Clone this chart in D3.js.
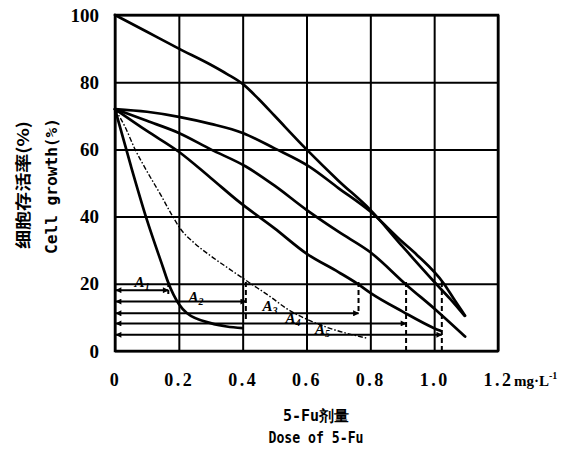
<!DOCTYPE html>
<html>
<head>
<meta charset="utf-8">
<script src="https://cdn.jsdelivr.net/npm/d3@7"></script>
<style>
  body { margin: 0; background: #fff; }
  .tick line { stroke: #000; stroke-width: 2; }
  .tick text { font-family: "Liberation Serif", serif; font-weight: bold; font-size: 19px; fill: #000; }
  .x-axis .tick text { font-size: 18px; letter-spacing: 2.5px; }
  .domain { stroke: none; }
</style>
</head>
<body>
<div class="chart"></div>
<script>
// DATA -----------------------------------

// tick labels
var xTicks = [0, 0.2, 0.4, 0.6, 0.8, 1.0, 1.2];
var xTickLabels = ["0", "0.2", "0.4", "0.6", "0.8", "1.0", "1.2"];
var yTicks = [0, 20, 40, 60, 80, 100];

// control curve (starts at 100%)
var topDose = [0, 0.1, 0.2, 0.3, 0.35, 0.4, 0.45, 0.5, 0.6, 0.7, 0.8, 0.9, 1.0, 1.05, 1.095];
var topGrowth = [100, 95, 90, 85.2, 82.5, 79.5, 75, 70, 60, 50.7, 42, 31.2, 20.6, 15.5, 10.5];

// curves starting at 72%
var aDose = [0, 0.1, 0.2, 0.3, 0.4, 0.5, 0.61, 0.7, 0.8, 0.9, 0.946, 1.03, 1.065, 1.097];
var aGrowth = [72, 71.2, 69.7, 67.6, 64.9, 60.3, 54.8, 48.5, 41.5, 32.5, 28.6, 20.1, 15, 10.5];

var bDose = [0, 0.1, 0.2, 0.3, 0.41, 0.5, 0.6, 0.7, 0.8, 0.914, 1.008, 1.097];
var bGrowth = [72, 68.5, 64.9, 60, 54.9, 49.2, 42, 35.5, 29.4, 19.6, 12, 4.3];

var cDose = [0, 0.1, 0.2, 0.3, 0.39, 0.5, 0.6, 0.7, 0.76, 0.8, 0.9, 1.0, 1.02];
var cGrowth = [72, 65.5, 59.3, 51.5, 44.3, 36.5, 29, 23.5, 20, 17.3, 11.8, 6.8, 6];

var dDose = [0, 0.05, 0.1, 0.15, 0.167, 0.2, 0.225, 0.3, 0.35, 0.4];
var dGrowth = [72, 55, 39, 25, 20.3, 14, 11.3, 8.3, 7.3, 6.8];

// dash-dot curve
var eDose = [0, 0.03, 0.063, 0.1, 0.146, 0.178, 0.204, 0.25, 0.3, 0.36, 0.42, 0.486, 0.538, 0.632, 0.79];
var eGrowth = [72, 67, 60, 53.5, 46, 40.5, 36.5, 32, 28.3, 24.3, 20.4, 16.2, 12.6, 8.2, 3.8];

// dose at 20% growth for each curve, and the level of its arrow
var arrowDose = [0.167, 0.41, 0.763, 0.912, 1.024];
var arrowLevel = [18.1, 14.7, 11.2, 8.2, 4.8];
var dropEnd = [17, 8.7, 11.2, 0, 0];
var arrowNames = ["1", "2", "3", "4", "5"];
var nameDose = [0.085, 0.254, 0.486, 0.558, 0.65];
var nameLevel = [20.5, 16.2, 13.4, 9.8, 6.5];

// SET UP SVG ELEMENT -----------------------------------

var svgWidth = 581;
var svgHeight = 455;

var margin = { top: 15, right: 83, bottom: 104, left: 115 };
var chartWidth = svgWidth - margin.left - margin.right;
var chartHeight = svgHeight - margin.top - margin.bottom;

var svg = d3.select(".chart")
  .append("svg")
  .attr("width", svgWidth)
  .attr("height", svgHeight);

// arrowhead
svg.append("defs").append("marker")
  .attr("id", "head")
  .attr("viewBox", "0 0 10 10")
  .attr("refX", 9)
  .attr("refY", 5)
  .attr("markerWidth", 9)
  .attr("markerHeight", 6)
  .attr("markerUnits", "userSpaceOnUse")
  .attr("orient", "auto-start-reverse")
  .append("path")
  .attr("d", "M0,0 L10,5 L0,10 z")
  .attr("fill", "#000");

var chartGroup = svg.append("g")
  .attr("transform", `translate(${margin.left}, ${margin.top})`);

// SCALES AND AXES -----------------------------------

var xScale = d3.scaleLinear().domain([0, 1.2]).range([0, chartWidth]);
var yScale = d3.scaleLinear().domain([0, 100]).range([chartHeight, 0]);

// x grid + labels
chartGroup.append("g")
  .classed("x-axis", true)
  .attr("transform", `translate(0, ${chartHeight})`)
  .call(d3.axisBottom(xScale)
    .tickValues(xTicks)
    .tickSize(-chartHeight)
    .tickSizeOuter(0)
    .tickPadding(22)
    .tickFormat((d, i) => xTickLabels[i]));

// y grid + labels
chartGroup.append("g")
  .call(d3.axisLeft(yScale)
    .tickValues(yTicks)
    .tickSize(-chartWidth)
    .tickSizeOuter(0)
    .tickPadding(16));

// border
chartGroup.append("rect")
  .attr("width", chartWidth)
  .attr("height", chartHeight)
  .attr("fill", "none")
  .attr("stroke", "#000")
  .attr("stroke-width", 2.5);

// CURVES -----------------------------------

var line = d3.line()
  .x(d => xScale(d[0]))
  .y(d => yScale(d[1]))
  .curve(d3.curveMonotoneX);

var curves = [
  [topDose, topGrowth],
  [aDose, aGrowth],
  [bDose, bGrowth],
  [cDose, cGrowth],
  [dDose, dGrowth]
];

curves.forEach(function(c) {
  chartGroup.append("path")
    .datum(d3.zip(c[0], c[1]))
    .attr("d", line)
    .attr("fill", "none")
    .attr("stroke", "#000")
    .attr("stroke-width", 2.7)
    .attr("stroke-linecap", "round");
});

chartGroup.append("path")
  .datum(d3.zip(eDose, eGrowth))
  .attr("d", line)
  .attr("fill", "none")
  .attr("stroke", "#000")
  .attr("stroke-width", 1.4)
  .attr("stroke-dasharray", "5,2,1.5,2");

// ARROWS -----------------------------------

arrowDose.forEach(function(d, i) {
  // dashed drop from the 20% crossing
  chartGroup.append("line")
    .attr("x1", xScale(d))
    .attr("x2", xScale(d))
    .attr("y1", yScale(20.5))
    .attr("y2", yScale(dropEnd[i]))
    .attr("stroke", "#000")
    .attr("stroke-width", 2)
    .attr("stroke-dasharray", "5,3");

  // horizontal arrow back to the axis
  chartGroup.append("line")
    .attr("x1", xScale(d))
    .attr("x2", xScale(0) + 1)
    .attr("y1", yScale(arrowLevel[i]))
    .attr("y2", yScale(arrowLevel[i]))
    .attr("stroke", "#000")
    .attr("stroke-width", 2)
    .attr("marker-start", "url(#head)")
    .attr("marker-end", "url(#head)");

  var t = chartGroup.append("text")
    .attr("x", xScale(nameDose[i]))
    .attr("y", yScale(nameLevel[i]) + 5)
    .attr("text-anchor", "middle")
    .style("font-family", "Liberation Serif, serif")
    .style("font-weight", "bold")
    .style("font-style", "italic")
    .style("font-size", "15px");
  t.append("tspan").text("A");
  t.append("tspan")
    .attr("dy", 3)
    .style("font-size", "10px")
    .text(arrowNames[i]);
});

// TEXT -----------------------------------

// unit after last tick
var unit = svg.append("text")
  .attr("x", 514)
  .attr("y", 386)
  .style("font-family", "Liberation Serif, serif")
  .style("font-size", "15px")
  .style("font-weight", "bold");
unit.append("tspan").text("mg·L");
unit.append("tspan")
  .attr("dy", -7)
  .style("font-size", "10px")
  .text("-1");

// x-axis title
svg.append("text")
  .attr("x", 316)
  .attr("y", 421)
  .attr("text-anchor", "middle")
  .style("font-family", "DejaVu Sans Mono, monospace")
  .style("font-weight", "bold")
  .style("font-size", "15px")
  .text("5-Fu剂量");

svg.append("text")
  .attr("x", 316)
  .attr("y", 443)
  .attr("text-anchor", "middle")
  .attr("textLength", 95)
  .attr("lengthAdjust", "spacingAndGlyphs")
  .style("font-family", "DejaVu Sans Mono, monospace")
  .style("font-weight", "bold")
  .style("font-size", "16px")
  .text("Dose of 5-Fu");

// y-axis titles
svg.append("text")
  .attr("transform", "translate(29, 185) rotate(-90)")
  .attr("text-anchor", "middle")
  .attr("textLength", 128)
  .attr("lengthAdjust", "spacingAndGlyphs")
  .style("font-family", "Noto Sans CJK SC, sans-serif")
  .style("font-weight", "bold")
  .style("font-size", "16px")
  .text("细胞存活率(%)");

svg.append("text")
  .attr("transform", "translate(57, 186) rotate(-90)")
  .attr("text-anchor", "middle")
  .attr("textLength", 136)
  .attr("lengthAdjust", "spacingAndGlyphs")
  .style("font-family", "DejaVu Sans Mono, monospace")
  .style("font-weight", "bold")
  .style("font-size", "15px")
  .text("Cell growth(%)");
</script>
</body>
</html>
